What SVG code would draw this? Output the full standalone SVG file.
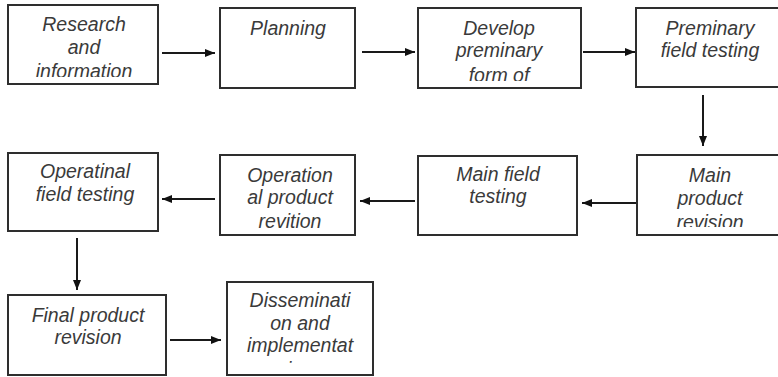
<svg xmlns="http://www.w3.org/2000/svg" width="778" height="377" viewBox="0 0 778 377">
<defs>
<style>
.box{fill:#fff;stroke:#2e2e2e;stroke-width:2}
.t{font-family:"Liberation Sans",Arial,sans-serif;font-style:italic;font-size:19.5px;fill:#3a3a3a;text-anchor:middle}
.c{stroke:#1a1a1a;stroke-width:2;fill:none;marker-end:url(#ah)}
</style>
<marker id="ah" markerWidth="10" markerHeight="8" refX="10" refY="4" orient="auto" markerUnits="userSpaceOnUse">
<path d="M0,0 L10,4 L0,8 Z" fill="#111"/>
</marker>
<clipPath id="c1"><rect x="8" y="5" width="150" height="72"/></clipPath>
<clipPath id="c3"><rect x="418" y="8" width="163" height="73"/></clipPath>
<clipPath id="c5"><rect x="637" y="155" width="141" height="72"/></clipPath>
<clipPath id="c7"><rect x="220" y="155" width="135" height="73"/></clipPath>
<clipPath id="c10"><rect x="227" y="282" width="146" height="83"/></clipPath>
</defs>
<rect width="778" height="377" fill="#fff"/>
<g id="connectors">
<line class="c" x1="162" y1="53" x2="215" y2="53"/>
<line class="c" x1="362" y1="52" x2="415" y2="52"/>
<line class="c" x1="583" y1="52" x2="635" y2="52"/>
<line class="c" x1="703" y1="95" x2="703" y2="146"/>
<line class="c" x1="637" y1="203" x2="582" y2="203"/>
<line class="c" x1="415" y1="201" x2="360" y2="201"/>
<line class="c" x1="215" y1="199" x2="162" y2="199"/>
<line class="c" x1="77" y1="238" x2="77" y2="290"/>
<line class="c" x1="170" y1="340" x2="221" y2="340"/>
</g>
<g id="n1">
<rect class="box" x="8" y="5" width="150" height="79"/>
<g clip-path="url(#c1)"><text class="t" x="84" y="31">Research</text><text class="t" x="84" y="54">and</text><text class="t" x="84" y="78">information</text></g>
</g>
<g id="n2">
<rect class="box" x="220" y="8" width="135" height="80"/>
<text class="t" x="288" y="35">Planning</text>
</g>
<g id="n3">
<rect class="box" x="418" y="8" width="163" height="80"/>
<g clip-path="url(#c3)"><text class="t" x="499" y="35">Develop</text><text class="t" x="499" y="57">preminary</text><text class="t" x="499" y="82">form of</text></g>
</g>
<g id="n4">
<rect class="box" x="636" y="8" width="145" height="79"/>
<text class="t" x="710" y="35">Preminary</text><text class="t" x="710" y="57">field testing</text>
</g>
<g id="n5">
<rect class="box" x="637" y="155" width="145" height="80"/>
<g clip-path="url(#c5)"><text class="t" x="710" y="182">Main</text><text class="t" x="710" y="205">product</text><text class="t" x="710" y="229">revision</text></g>
</g>
<g id="n6">
<rect class="box" x="418" y="156" width="159" height="79"/>
<text class="t" x="498" y="181">Main field</text><text class="t" x="498" y="203">testing</text>
</g>
<g id="n7">
<rect class="box" x="220" y="155" width="135" height="80"/>
<g clip-path="url(#c7)"><text class="t" x="290" y="182">Operation</text><text class="t" x="290" y="204">al product</text><text class="t" x="290" y="228">revition</text></g>
</g>
<g id="n8">
<rect class="box" x="8" y="153" width="150" height="78"/>
<text class="t" x="85" y="178">Operatinal</text><text class="t" x="85" y="201">field testing</text>
</g>
<g id="n9">
<rect class="box" x="8" y="295" width="158" height="80"/>
<text class="t" x="88" y="322">Final product</text><text class="t" x="88" y="344">revision</text>
</g>
<g id="n10">
<rect class="box" x="227" y="282" width="146" height="93"/>
<g clip-path="url(#c10)"><text class="t" x="300" y="307">Disseminati</text><text class="t" x="300" y="330">on and</text><text class="t" x="300" y="352">implementat</text><text class="t" x="300" y="376">ion</text></g>
</g>
</svg>
